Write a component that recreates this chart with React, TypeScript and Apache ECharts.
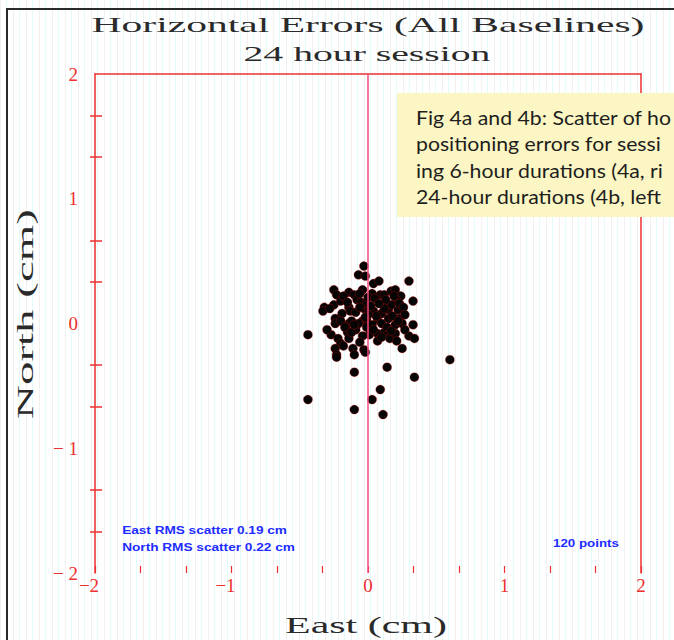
import React, { useEffect, useRef } from "react";
import * as echarts from "echarts";

// East / North horizontal errors (cm), 120 points
const eastVals = [
  -0.03, -0.07, -0.02, 0.04, 0.08, 0.30,
  -0.25, -0.23, -0.14, -0.10, -0.04, 0.03, 0.09, 0.12, 0.17, 0.20, 0.24, 0.21, 0.33,
  -0.32, -0.33, -0.25, -0.20, -0.14, -0.13, -0.08, -0.05, -0.03, -0.01, 0.01, 0.04, 0.10, 0.14, 0.15, 0.22, 0.17, 0.23,
  -0.24, -0.24, -0.14, -0.12, -0.04, -0.01, 0.07, 0.15, 0.23, 0.20, 0.33,
  -0.44, -0.27, -0.22, -0.20, -0.15, -0.14, -0.09, -0.01, 0.01, 0.07, 0.07, 0.12, 0.16, 0.20, 0.21, 0.30, 0.34,
  -0.24, -0.23, -0.23, -0.11, -0.10, -0.03, -0.02, 0.25,
  0.60, 0.14, -0.10, 0.34, 0.09, -0.44, 0.03, -0.10, 0.11,
  -0.18, -0.06, 0.00, 0.05, 0.13, 0.19, 0.26, 0.27,
  -0.28, -0.19, -0.09, -0.06, 0.02, 0.06, 0.12, 0.18,
  -0.20, -0.17, -0.07, 0.03, 0.10, 0.14, 0.25, -0.30,
  -0.12, -0.04, 0.04, 0.10, 0.17, 0.27, -0.18, -0.06,
  0.00, -0.02, 0.08, -0.15, 0.22, -0.10,
];
const northVals = [
  0.46, 0.39, 0.38, 0.32, 0.34, 0.34,
  0.27, 0.23, 0.25, 0.23, 0.27, 0.24, 0.23, 0.23, 0.26, 0.27, 0.22, 0.19, 0.18,
  0.13, 0.10, 0.15, 0.18, 0.13, 0.10, 0.19, 0.17, 0.12, 0.16, 0.11, 0.10, 0.08, 0.15, 0.11, 0.11, 0.15, 0.16,
  0.04, 0.00, 0.00, 0.02, 0.02, 0.03, 0.03, 0.04, 0.04, -0.01, -0.01,
  -0.09, -0.09, -0.12, -0.16, -0.07, -0.12, -0.05, -0.03, -0.09, -0.08, -0.14, -0.07, -0.12, -0.08, -0.14, -0.10, -0.12,
  -0.20, -0.25, -0.27, -0.20, -0.25, -0.21, -0.23, -0.20,
  -0.29, -0.35, -0.39, -0.43, -0.53, -0.61, -0.61, -0.69, -0.73,
  0.22, 0.24, 0.21, 0.20, 0.19, 0.22, 0.13, 0.07,
  0.12, 0.08, 0.09, 0.13, 0.14, 0.06, 0.12, 0.06,
  0.02, -0.03, 0.00, -0.01, 0.00, -0.03, 0.00, -0.05,
  -0.07, -0.10, -0.05, -0.11, -0.06, -0.05, -0.18, -0.15,
  0.07, 0.05, 0.16, 0.17, 0.02, -0.01,
];

const axisMin = -2;
const axisMax = 2;
const axisStep = 1;

const titleText = "Horizontal Errors (All Baselines)";
const subtitleText = "24 hour session";
const xAxisName = "East (cm)";
const yAxisName = "North (cm)";
const statLines = ["East RMS scatter 0.19 cm", "North RMS scatter 0.22 cm"];
const countText = "120 points";
// the caption box is cut by the right edge of the picture; these are its visible parts
const noteLines = [
  "Fig 4a and 4b: Scatter of ho",
  "positioning errors for sessi",
  "ing 6-hour durations (4a, ri",
  "24-hour durations (4b, left",
];

const RED = "#ee3030";
const SERIF = '"Liberation Serif", "DejaVu Serif", serif';

function measure(text: string, font: string): number {
  const c = document.createElement("canvas").getContext("2d");
  if (!c) return text.length * 10;
  c.font = font;
  return c.measureText(text).width;
}

function stretchedText(
  text: string,
  size: number,
  family: string,
  targetWidth: number,
  x: number,
  y: number,
  fill: string,
  rotation = 0,
  weight = "normal"
) {
  const font = `${weight} ${size}px ${family}`;
  const w = measure(text, font);
  return {
    type: "text",
    x,
    y,
    rotation,
    scaleX: targetWidth / w,
    style: {
      text,
      font,
      fill,
      textAlign: "center",
      textVerticalAlign: "middle",
    },
    z: 20,
  };
}

export default function App() {
  const ref = useRef<HTMLDivElement>(null);

  useEffect(() => {
    if (!ref.current) return;
    const chart = echarts.init(ref.current, undefined, { renderer: "svg" });
    const data = eastVals.map((e, i) => [e, northVals[i]]);

    const labelStyle = {
      color: RED,
      fontFamily: SERIF,
      fontSize: 19,
    };

    const noteFont = '19.5px Lato, "Open Sans", sans-serif';
    const noteScale = 256 / measure(noteLines[0], noteFont);

    const option: any = {
      animation: false,
      backgroundColor: "transparent",
      grid: { left: 95, right: 33, top: 74, bottom: 67, containLabel: false },
      xAxis: [
        {
          type: "value",
          position: "bottom",
          min: axisMin,
          max: axisMax,
          interval: axisStep,
          axisLine: { show: false, onZero: false },
          axisTick: { show: true, inside: true, length: 7, lineStyle: { color: RED, width: 1.2 } },
          minorTick: { show: true, splitNumber: 3, length: 7, lineStyle: { color: RED, width: 1.2 } },
          splitLine: { show: false },
          minorSplitLine: { show: false },
          axisLabel: {
            margin: 3,
            ...labelStyle,
            formatter: (v: number) =>
              v < 0 ? `{n|\u2212${Math.abs(v)}}` : `{p|${v}}`,
            rich: {
              n: { ...labelStyle, padding: [0, 12, 0, 0] },
              p: { ...labelStyle },
            },
          },
        },
        {
          type: "value",
          position: "top",
          min: axisMin,
          max: axisMax,
          interval: axisStep,
          axisLine: { show: true, onZero: false, lineStyle: { color: RED, width: 1.5 } },
          axisTick: { show: false },
          axisLabel: { show: false },
          splitLine: { show: false },
        },
      ],
      yAxis: [
        {
          type: "value",
          position: "left",
          min: axisMin,
          max: axisMax,
          interval: axisStep,
          axisLine: { show: true, onZero: false, lineStyle: { color: RED, width: 1.5 } },
          axisTick: { show: false, inside: false },
          minorTick: { show: true, splitNumber: 3, length: 5, lineStyle: { color: RED, width: 1.5 } },
          splitLine: { show: false },
          minorSplitLine: { show: false },
          axisLabel: {
            margin: 17,
            ...labelStyle,
            formatter: (v: number) => (v < 0 ? `\u2212 ${Math.abs(v)}` : `${v}`),
          },
        },
        {
          type: "value",
          position: "left",
          min: axisMin,
          max: axisMax,
          interval: axisStep,
          axisLine: { show: false, onZero: false },
          axisTick: { show: false, inside: true },
          minorTick: { show: true, splitNumber: 3, length: 7, lineStyle: { color: RED, width: 1.5 } },
          axisLabel: { show: false },
          splitLine: { show: false },
          minorSplitLine: { show: false },
        },
        {
          type: "value",
          position: "right",
          min: axisMin,
          max: axisMax,
          interval: axisStep,
          axisLine: { show: true, onZero: false, lineStyle: { color: RED, width: 1.5 } },
          axisTick: { show: false },
          axisLabel: { show: false },
          splitLine: { show: false },
        },
      ],
      series: [
        {
          type: "scatter",
          xAxisIndex: 0,
          yAxisIndex: 0,
          data,
          symbol: "circle",
          symbolSize: 9,
          itemStyle: {
            color: "#050505",
            borderColor: "rgba(230,10,10,0.5)",
            borderWidth: 0.6,
            opacity: 1,
          },
          markLine: {
            silent: true,
            symbol: "none",
            z: 10,
            label: { show: false },
            lineStyle: { color: "#f04a7c", width: 1.5, type: "solid" },
            data: [{ xAxis: 0 }],
          },
        },
      ],
      graphic: [
        {
          type: "rect",
          shape: { x: 7, y: 9, width: 720, height: 720 },
          style: { fill: "none", stroke: "#2a2a2a", lineWidth: 2 },
          silent: true,
          z: 1,
        },
        stretchedText(titleText, 22, SERIF, 553, 368, 24, "#2a2a2a"),
        stretchedText(subtitleText, 21, SERIF, 247, 367, 54, "#2a2a2a"),
        stretchedText(xAxisName, 23, SERIF, 162, 366, 625, "#2a2a2a"),
        stretchedText(yAxisName, 23, SERIF, 210, 25, 314, "#2a2a2a", Math.PI / 2),
        stretchedText(statLines[0], 11, '"Liberation Sans", Arial, sans-serif', 165, 204.5, 530, "#1f2cff", 0, "bold"),
        stretchedText(statLines[1], 11, '"Liberation Sans", Arial, sans-serif', 173, 208.5, 547, "#1f2cff", 0, "bold"),
        stretchedText(countText, 11, '"Liberation Sans", Arial, sans-serif', 66, 586, 543, "#1f2cff", 0, "bold"),
        {
          type: "rect",
          shape: { x: 397, y: 93, width: 300, height: 124 },
          style: { fill: "#fbf6c3", stroke: "none" },
          z: 30,
        },
        ...noteLines.map((t, i) => ({
          type: "text",
          x: 416,
          y: 117 + i * 26.5,
          scaleX: noteScale,
          style: {
            text: t,
            font: noteFont,
            fill: "#1e1e1e",
            textAlign: "left",
            textVerticalAlign: "middle",
          },
          z: 31,
        })),
      ],
    };

    chart.setOption(option);
    return () => chart.dispose();
  }, []);

  return (
    <div
      ref={ref}
      style={{
        position: "absolute",
        left: 0,
        top: 0,
        width: 674,
        height: 640,
        overflow: "hidden",
        background:
          "repeating-linear-gradient(90deg, #f0f0f0 0px, #f0f0f0 1px, #ffffff 1px, #ffffff 6px, #e2fbfb 6px, #e2fbfb 7px, #ffffff 7px, #ffffff 13px)",
      }}
    />
  );
}
